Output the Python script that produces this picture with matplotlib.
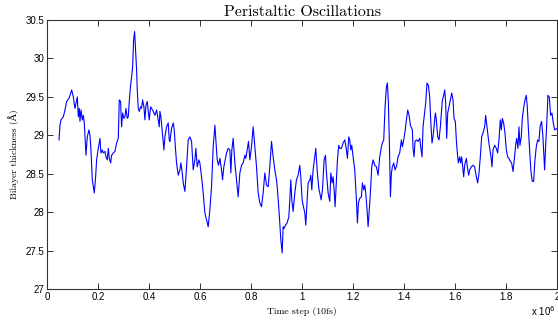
import matplotlib
matplotlib.use("Agg")
import matplotlib.pyplot as plt
import numpy as np

# time in units of 10^6 steps
time_m = [
    0.0455, 0.0494, 0.0533, 0.0625, 0.0690, 0.0756, 0.0860, 0.0952, 0.1017, 0.1082,
    0.1148, 0.1174, 0.1213, 0.1252, 0.1278, 0.1318, 0.1370, 0.1409, 0.1448, 0.1475,
    0.1514, 0.1566, 0.1631, 0.1671, 0.1710, 0.1762, 0.1801, 0.1840, 0.1893, 0.1932,
    0.1997, 0.2063, 0.2102, 0.2154, 0.2193, 0.2259, 0.2298, 0.2350, 0.2390, 0.2429,
    0.2481, 0.2520, 0.2586, 0.2651, 0.2716, 0.2782, 0.2821, 0.2873, 0.2912, 0.2952,
    0.3004, 0.3043, 0.3082, 0.3135, 0.3174, 0.3213, 0.3265, 0.3305, 0.3344, 0.3383,
    0.3422, 0.3462, 0.3501, 0.3527, 0.3566, 0.3605, 0.3658, 0.3697, 0.3736, 0.3788,
    0.3827, 0.3867, 0.3919, 0.3958, 0.3997, 0.4050, 0.4089, 0.4154, 0.4220, 0.4285,
    0.4350, 0.4389, 0.4416, 0.4455, 0.4520, 0.4573, 0.4612, 0.4677, 0.4742, 0.4782,
    # segment 2
    0.4808, 0.4873, 0.4939, 0.4978, 0.5030, 0.5069, 0.5135, 0.5200, 0.5239, 0.5292,
    0.5331, 0.5396, 0.5462, 0.5527, 0.5592, 0.5658, 0.5723, 0.5788, 0.5827, 0.5880,
    0.5945, 0.5984, 0.6050, 0.6115, 0.6180, 0.6246, 0.6311, 0.6376, 0.6442, 0.6507,
    0.6573, 0.6612, 0.6664, 0.6716, 0.6769, 0.6834, 0.6873, 0.6925, 0.6978, 0.7030,
    0.7095, 0.7161, 0.7200, 0.7239, 0.7291, 0.7357, 0.7422, 0.7487, 0.7553, 0.7618,
    0.7684, 0.7749, 0.7788, 0.7840, 0.7893, 0.7945, 0.8010, 0.8076, 0.8141, 0.8207,
    0.8272, 0.8337, 0.8403, 0.8468, 0.8533, 0.8599, 0.8664, 0.8729, 0.8795, 0.8860,
    0.8925, 0.8991, 0.9030, 0.9095,
    # segment 3
    0.9161, 0.9213, 0.9252, 0.9291, 0.9344, 0.9409, 0.9475, 0.9514, 0.9553, 0.9592,
    0.9644, 0.9710, 0.9775, 0.9840, 0.9906, 0.9945, 0.9997, 1.0037, 1.0102, 1.0141,
    1.0193, 1.0233, 1.0298, 1.0337, 1.0376, 1.0429, 1.0494, 1.0533, 1.0586, 1.0651,
    1.0690, 1.0742, 1.0795, 1.0860, 1.0912, 1.0952, 1.1017, 1.1082, 1.1122, 1.1174,
    1.1213, 1.1252, 1.1291, 1.1344, 1.1383, 1.1435, 1.1475, 1.1540, 1.1605, 1.1671,
    1.1736, 1.1775, 1.1827, 1.1867, 1.1906, 1.1945, 1.1997, 1.2063, 1.2128, 1.2167,
    1.2207, 1.2259, 1.2324, 1.2363, 1.2416, 1.2455, 1.2494, 1.2546, 1.2586, 1.2651,
    1.2690, 1.2729, 1.2782, 1.2847, 1.2912, 1.2978, 1.3043, 1.3108, 1.3148, 1.3200,
    1.3252, 1.3305, 1.3344, 1.3383, 1.3422, 1.3462, 1.3501, 1.3540, 1.3592, 1.3645,
    1.3710, 1.3762, 1.3827, 1.3893, 1.3932, 1.3984, 1.4037, 1.4089, 1.4141, 1.4194,
    1.4246,
    # segment 4
    1.4324, 1.4350, 1.4390, 1.4429, 1.4481, 1.4546, 1.4612, 1.4651, 1.4703, 1.4742,
    1.4808, 1.4847, 1.4899, 1.4952, 1.5004, 1.5043, 1.5095, 1.5135, 1.5174, 1.5226,
    1.5265, 1.5318, 1.5370, 1.5422, 1.5462, 1.5501, 1.5553, 1.5592, 1.5631, 1.5671,
    1.5710, 1.5762, 1.5815, 1.5867, 1.5919, 1.5958, 1.6010, 1.6050, 1.6089, 1.6128,
    1.6180, 1.6220, 1.6259, 1.6298, 1.6337, 1.6376, 1.6442, 1.6481, 1.6533, 1.6573,
    1.6638, 1.6703, 1.6769, 1.6834, 1.6886, 1.6939, 1.6991, 1.7043, 1.7095, 1.7161,
    1.7200, 1.7252, 1.7305, 1.7357, 1.7409, 1.7448, 1.7488, 1.7553, 1.7618, 1.7671,
    1.7723, 1.7775, 1.7815, 1.7854, 1.7906, 1.7958, 1.8011, 1.8063, 1.8115, 1.8167,
    1.8220, 1.8272, 1.8324, 1.8376, 1.8416, 1.8468, 1.8507, 1.8546, 1.8599, 1.8638,
    1.8690, 1.8742, 1.8795, 1.8834, 1.8873, 1.8925, 1.8978, 1.9030, 1.9082, 1.9135,
    1.9187, 1.9239, 1.9291, 1.9344, 1.9396, 1.9448, 1.9487, 1.9514, 1.9553, 1.9605,
    1.9644, 1.9697, 1.9749, 1.9801, 1.9854, 1.9906, 2.0000,
]

thickness = [
    28.94, 29.13, 29.20, 29.24, 29.33, 29.44, 29.49, 29.59, 29.50, 29.35,
    29.46, 29.50, 29.24, 29.35, 29.18, 29.33, 29.20, 29.26, 29.16, 28.98,
    28.74, 28.98, 29.07, 29.00, 28.81, 28.42, 28.33, 28.25, 28.46, 28.68,
    28.83, 28.96, 28.77, 28.81, 28.77, 28.79, 28.72, 28.68, 28.83, 28.70,
    28.64, 28.74, 28.77, 28.79, 28.90, 28.96, 29.46, 29.44, 29.11, 29.29,
    29.22, 29.24, 29.35, 29.22, 29.24, 29.44, 29.65, 29.76, 29.89, 30.24,
    30.35, 30.11, 29.85, 29.59, 29.35, 29.31, 29.37, 29.35, 29.46, 29.37,
    29.20, 29.39, 29.44, 29.31, 29.20, 29.37, 29.35, 29.31, 29.26, 29.33,
    29.20, 29.11, 29.31, 29.24, 29.00, 28.81, 28.98, 29.11, 29.16, 28.94,
    # segment 2
    28.92, 29.09, 29.16, 29.07, 28.81, 28.64, 28.48, 28.55, 28.64, 28.51,
    28.38, 28.27, 28.59, 28.94, 28.98, 28.92, 28.55, 28.68, 28.83, 28.59,
    28.68, 28.64, 28.46, 28.25, 27.99, 27.90, 27.81, 28.03, 28.33, 28.85,
    29.13, 28.94, 28.68, 28.61, 28.70, 28.55, 28.42, 28.59, 28.68, 28.77,
    28.83, 28.81, 28.51, 28.81, 28.96, 28.64, 28.42, 28.20, 28.51, 28.61,
    28.64, 28.74, 28.70, 28.81, 28.92, 28.68, 28.85, 29.11, 28.85, 28.59,
    28.25, 28.12, 28.07, 28.25, 28.51, 28.35, 28.33, 28.59, 28.92, 28.72,
    28.55, 28.42, 28.29, 27.99,
    # segment 3
    27.64, 27.47, 27.81, 27.79, 27.83, 27.86, 27.94, 28.16, 28.42, 28.16,
    28.01, 28.25, 28.42, 28.48, 28.61, 28.46, 28.16, 28.09, 27.99, 27.83,
    28.16, 28.38, 28.42, 28.48, 28.29, 28.55, 28.72, 28.83, 28.55, 28.31,
    28.25, 28.16, 28.29, 28.68, 28.74, 28.51, 28.25, 28.14, 28.51, 28.38,
    28.46, 28.29, 28.07, 28.42, 28.68, 28.87, 28.83, 28.83, 28.90, 28.94,
    28.81, 28.70, 28.98, 28.94, 28.81, 28.87, 28.72, 28.55, 28.16, 27.86,
    28.12, 28.18, 28.20, 28.38, 28.29, 28.35, 28.25, 28.03, 27.81, 28.12,
    28.33, 28.59, 28.68, 28.61, 28.59, 28.48, 28.72, 28.85, 28.90, 28.94,
    29.37, 29.63, 29.68, 29.42, 28.90, 28.20, 28.51, 28.59, 28.64, 28.55,
    28.61, 28.72, 28.77, 28.94, 28.85, 28.94, 29.05, 29.20, 29.33, 29.26,
    29.13,
    # segment 4
    29.07, 28.83, 28.72, 28.92, 28.94, 28.92, 28.96, 28.85, 28.72, 29.11,
    29.31, 29.42, 29.68, 29.65, 29.50, 29.20, 28.90, 28.98, 29.11, 29.29,
    29.20, 28.98, 28.94, 29.11, 29.29, 29.46, 29.52, 29.59, 29.42, 28.96,
    29.29, 29.37, 29.46, 29.55, 29.46, 29.22, 29.18, 28.94, 28.77, 28.64,
    28.72, 28.64, 28.72, 28.59, 28.46, 28.61, 28.70, 28.59, 28.48, 28.55,
    28.59, 28.61, 28.59, 28.46, 28.38, 28.51, 28.72, 28.98, 29.03, 29.11,
    29.26, 29.11, 28.96, 28.83, 28.72, 28.59, 28.81, 28.87, 28.83, 28.77,
    28.94, 29.20, 29.07, 29.22, 29.16, 29.03, 28.81, 28.72, 28.70, 28.66,
    28.64, 28.53, 28.68, 28.87, 28.96, 28.83, 29.11, 28.87, 28.98, 29.22,
    29.35, 29.46, 29.52, 29.37, 29.11, 28.81, 28.53, 28.40, 28.40, 28.68,
    28.85, 28.94, 28.92, 29.13, 29.18, 28.98, 28.72, 28.55, 28.85, 29.20,
    29.52, 29.50, 29.26, 29.29, 29.16, 29.07, 29.09,
]

x_ticks = [0, 0.2, 0.4, 0.6, 0.8, 1.0, 1.2, 1.4, 1.6, 1.8, 2.0]
x_tick_labels = ["0", "0.2", "0.4", "0.6", "0.8", "1", "1.2", "1.4", "1.6", "1.8", "2"]
y_ticks = [27, 27.5, 28, 28.5, 29, 29.5, 30, 30.5]
y_tick_labels = ["27", "27.5", "28", "28.5", "29", "29.5", "30", "30.5"]

serif = ["cmr10", "DejaVu Serif"]

fig = plt.figure(figsize=(5.58, 3.26), dpi=100)
ax = fig.add_axes([47.4 / 558, 1 - 289 / 326, (557 - 47.4) / 558, (289 - 20) / 326])
ax.plot(time_m, thickness, color="#0000ff", linewidth=0.8)
ax.set_xlim(0, 2)
ax.set_ylim(27, 30.5)
ax.set_xticks(x_ticks)
ax.set_xticklabels(x_tick_labels)
ax.set_yticks(y_ticks)
ax.set_yticklabels(y_tick_labels)
ax.tick_params(direction="in", length=4, width=0.7, labelsize=7, top=True, right=True,
               color="#333333", pad=2)
for lab in ax.get_xticklabels() + ax.get_yticklabels():
    lab.set_family(["Liberation Sans", "DejaVu Sans"])
for s in ax.spines.values():
    s.set_linewidth(0.8)
    s.set_color("#333333")

ax.set_title("Peristaltic Oscillations", fontsize=11.5, family=serif, pad=3)
ax.set_xlabel("Time step (10fs)", fontsize=7, family=serif, labelpad=4)
ax.set_ylabel("Bilayer thickness (Å)", fontsize=7, family=serif, labelpad=5)
fig.text(531 / 558, 1 - 316 / 326, r"x 10$^{6}$", fontsize=7, family=["Liberation Sans", "DejaVu Sans"],
         ha="left", va="baseline")

fig.savefig("out.png", dpi=100)
